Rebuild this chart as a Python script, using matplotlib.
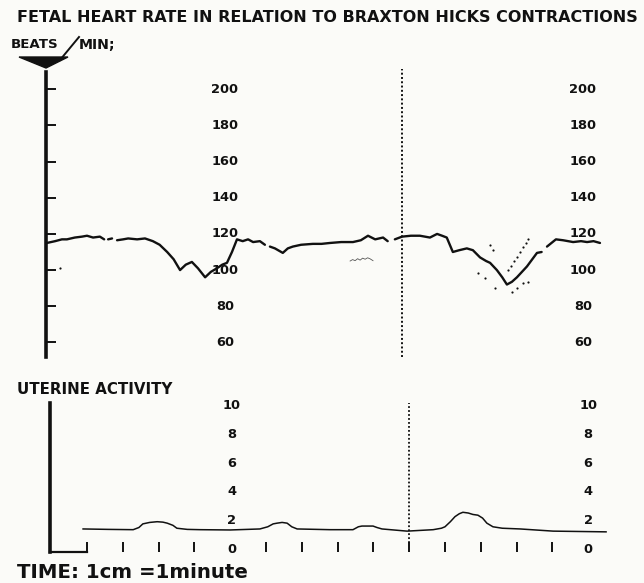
import numpy as np
import matplotlib.pyplot as plt
from matplotlib.patches import Polygon

# time in minutes (1 cm = 1 minute)
fhr_time = [-1.12, -0.89, -0.70, -0.56, -0.34, -0.14, 0.0, 0.17, 0.36, 0.48, np.nan,
            0.59, 0.70, np.nan, 0.84, 1.01, 1.15, 1.40, 1.62, 1.84, 2.03, 2.24,
            2.42, 2.60, 2.76, 2.93, 3.10, 3.30, 3.46, 3.63, 3.78, 3.91, 4.05,
            4.19, 4.35, 4.50, 4.64, 4.83, 4.97, np.nan, 5.11, 5.25, 5.47, 5.61,
            5.75, 5.98, 6.31, 6.55, 6.79, 7.10, 7.43, 7.65, 7.85, 8.05, 8.27,
            8.40, np.nan, 8.60, 8.80, 9.05, 9.30, 9.58, 9.78, 9.92, 10.05,
            10.22, 10.40, 10.61, 10.78, 10.98, 11.15, 11.26, 11.45, 11.60,
            11.73, 11.87, 12.01, 12.29, 12.57, 12.70, np.nan, 12.85, 13.10,
            13.30, 13.58, 13.80, 13.97, 14.15, 14.33]
fhr_bpm = [115, 116, 117, 117, 118, 118.5, 119, 118, 118.5, 117, np.nan,
           117, 117.5, np.nan, 116.5, 117, 117.5, 117, 117.5, 116, 114, 110,
           106, 100, 103, 104.5, 101, 96, 99, 101, 103, 104, 110,
           117, 116, 117, 115.5, 116, 114, np.nan, 113, 112, 109.5, 112,
           113, 114, 114.5, 114.5, 115, 115.5, 115.5, 116.5, 119, 117, 118,
           116, np.nan, 117, 118.5, 119, 119, 118, 120, 119, 118,
           110, 111, 112, 111, 107, 105, 104, 100, 96,
           92, 93.5, 96, 102, 109.5, 110, np.nan, 113, 117,
           116.5, 115.5, 116, 115.5, 116, 115]

# stray dots of the recorder around the second deceleration
dots_time = [-0.75, 11.76, 11.84, 11.93, 12.01, 12.09, 12.18, 12.26, 12.32,
             11.26, 11.34, 10.93, 11.12, 11.40, 11.87, 12.01, 12.18, 12.32]
dots_bpm = [101, 100, 102.5, 105, 107.5, 110, 112.5, 115, 117,
            114, 111, 98.4, 95.6, 90, 88, 90, 93, 93.5]

squiggle_time = [7.35, 7.42, 7.49, 7.56, 7.63, 7.70, 7.77, 7.84, 7.91, 7.99]
squiggle_bpm = [105, 105.8, 105.2, 106.3, 105.5, 106.6, 106.0, 106.8, 106.2, 105.2]

ua_time = [-0.11, 0.6, 1.29, 1.45, 1.56, 1.75, 1.96, 2.12, 2.24, 2.40, 2.51,
           2.80, 3.16, 4.0, 4.83, 5.05, 5.20, 5.31, 5.45, 5.59, 5.72, 5.87,
           6.79, 7.43, 7.58, 7.68, 7.99, 8.10, 8.24, 8.94, 9.67, 9.90, 10.0,
           10.15, 10.28, 10.40, 10.50, 10.65, 10.78, 10.92, 11.05, 11.17,
           11.34, 11.60, 12.10, 13.02, 14.50]
ua_value = [1.45, 1.42, 1.4, 1.55, 1.8, 1.9, 1.95, 1.92, 1.85, 1.7, 1.5,
            1.42, 1.4, 1.38, 1.45, 1.6, 1.8, 1.85, 1.9, 1.85, 1.6, 1.45,
            1.4, 1.4, 1.6, 1.65, 1.65, 1.55, 1.45, 1.3, 1.4, 1.5, 1.6,
            1.95, 2.3, 2.5, 2.6, 2.55, 2.45, 2.4, 2.2, 1.85,
            1.6, 1.5, 1.45, 1.3, 1.25]

bpm_ticks = [60, 80, 100, 120, 140, 160, 180, 200]
ua_ticks = [0, 2, 4, 6, 8, 10]
minute_ticks = [0, 1, 2, 3, 5, 6, 7, 8, 9, 10, 11, 12, 13]
contraction_top = 8.8
contraction_bottom = 9.0

ink = '#111111'
paper = '#fbfbf8'
W, H = 644, 583


def fx(x):
    return x / W


def fy(y):
    return 1 - y / H


plt.rcParams['font.family'] = ['DejaVu Sans']

fig = plt.figure(figsize=(6.44, 5.83), dpi=100, facecolor=paper)

# heart rate panel
ax = fig.add_axes([fx(46), fy(357), fx(564), 285 / H])
ax.set_facecolor('none')
ax.plot(fhr_time, fhr_bpm, color=ink, lw=1.7, solid_capstyle='round')
ax.scatter(dots_time, dots_bpm, s=2.5, color=ink, lw=0)
ax.plot(squiggle_time, squiggle_bpm, color=ink, lw=0.6, alpha=0.7)
ax.axvline(contraction_top, ymin=0, ymax=1.01, color=ink, lw=1.4,
           ls=(0, (1, 1.2)), clip_on=False)
ax.set_xlim(-1.145, 14.61)
ax.set_ylim(51.9, 209.6)
for s in ['top', 'right', 'bottom']:
    ax.spines[s].set_visible(False)
ax.spines['left'].set_linewidth(2.6)
ax.spines['left'].set_color(ink)
ax.set_xticks([])
ax.set_yticks(bpm_ticks)
ax.tick_params(axis='y', direction='in', length=7, width=1.4, color=ink,
               labelleft=False)
for xpos in [3.85, 13.85]:
    for v in bpm_ticks:
        ax.text(xpos, v, str(v), ha='center', va='center', fontsize=9.4,
                fontweight='bold', color=ink)

# uterine activity panel
ax2 = fig.add_axes([fx(50), fy(552), fx(560), 149 / H])
ax2.set_facecolor('none')
ax2.plot(ua_time, ua_value, color=ink, lw=1.1)
ax2.axvline(contraction_bottom, ymin=0.06, ymax=1.0, color=ink, lw=1.3,
            ls=(0, (1, 1.2)))
ax2.set_xlim(-1.034, 14.61)
ax2.set_ylim(-0.14, 10.14)
for s in ['top', 'right']:
    ax2.spines[s].set_visible(False)
ax2.spines['left'].set_linewidth(2.6)
ax2.spines['left'].set_color(ink)
ax2.spines['bottom'].set_linewidth(1.6)
ax2.spines['bottom'].set_color(ink)
ax2.spines['bottom'].set_bounds(-1.034, 0)
ax2.set_yticks([])
ax2.set_xticks(minute_ticks)
ax2.tick_params(axis='x', direction='in', length=7, width=1.4, color=ink,
                labelbottom=False)
for xpos in [4.05, 14.0]:
    for v in ua_ticks:
        ax2.text(xpos, v, str(v), ha='center', va='center', fontsize=9.4,
                 fontweight='bold', color=ink)

# headings
fig.text(fx(17), fy(18), 'FETAL HEART RATE IN RELATION TO BRAXTON HICKS CONTRACTIONS',
         ha='left', va='center', fontsize=11.5, fontweight='bold', color=ink)
fig.text(fx(11), fy(45), 'BEATS', ha='left', va='center', fontsize=9.6,
         fontweight='bold', color=ink)
fig.text(fx(79), fy(45), 'MIN;', ha='left', va='center', fontsize=10.2,
         fontweight='bold', color=ink)
fig.add_artist(plt.Line2D([fx(60), fx(79)], [fy(60), fy(37)], color=ink, lw=1.4))
fig.add_artist(Polygon([[fx(19), fy(57)], [fx(68), fy(57)], [fx(46), fy(68)]],
                       closed=True, color=ink, transform=fig.transFigure))
fig.text(fx(17), fy(389), 'UTERINE ACTIVITY', ha='left', va='center',
         fontsize=10.8, fontweight='bold', color=ink)
fig.text(fx(17), fy(572), 'TIME: 1cm =1minute', ha='left', va='center',
         fontsize=14.2, fontweight='bold', color=ink)

fig.savefig('out.png', dpi=100, facecolor=paper)
